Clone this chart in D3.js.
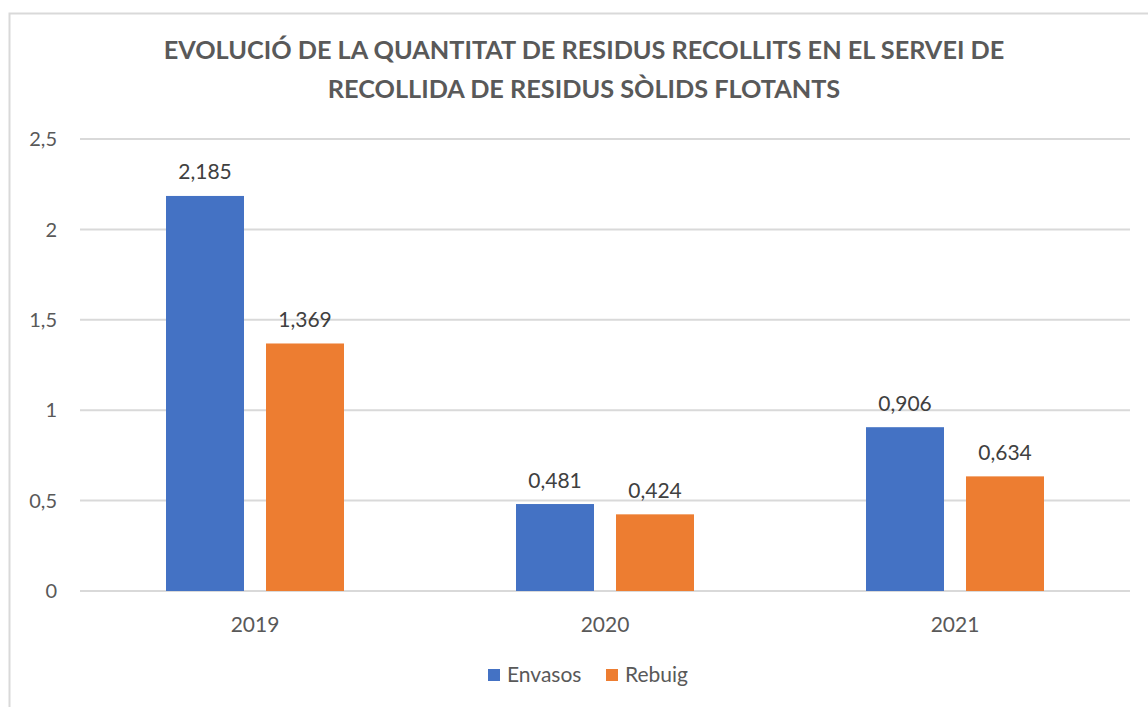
<!DOCTYPE html>
<html>
<head>
<meta charset="utf-8">
<script src="https://cdn.jsdelivr.net/npm/d3@7/dist/d3.min.js"></script>
<style>
  html, body { margin: 0; padding: 0; background: #fff; }
  svg { display: block; font-family: Lato, "Noto Sans", sans-serif; }
</style>
</head>
<body>
<svg id="chart" width="1148" height="707"></svg>
<script>
const titleLines = [
  "EVOLUCIÓ DE LA QUANTITAT DE RESIDUS RECOLLITS EN EL SERVEI DE",
  "RECOLLIDA DE RESIDUS SÒLIDS FLOTANTS"
];
const categories = ["2019", "2020", "2021"];
const seriesNames = ["Envasos", "Rebuig"];
const envasos = [2.185, 0.481, 0.906];
const rebuig = [1.369, 0.424, 0.634];
const yTicks = [0, 0.5, 1, 1.5, 2, 2.5];
const colors = ["#4472C4", "#ED7D31"];

const seriesValues = [envasos, rebuig];
const data = categories.map((c, i) => ({
  cat: c,
  vals: seriesNames.map((s, j) => ({ s, v: seriesValues[j][i], j }))
}));

const svg = d3.select("#chart");
const fmt = v => String(v).replace(".", ",");

// chart border (cropped at right and bottom)
svg.append("rect")
  .attr("x", 9.5).attr("y", 13.5)
  .attr("width", 1200).attr("height", 800)
  .attr("fill", "#fff").attr("stroke", "#d9d9d9").attr("stroke-width", 2);

// title
const title = svg.append("g");
titleLines.forEach((t, i) => {
  title.append("text")
    .attr("x", 584).attr("y", 59 + i * 39)
    .attr("text-anchor", "middle")
    .attr("font-weight", "bold")
    .attr("font-size", 24)
    .attr("fill", "#595959")
    .text(t);
});
// fit title line 1 width to ~841px
const t1 = title.select("text").node();
const w1 = t1.getComputedTextLength();
const fs = 24 * 841 / w1;
title.selectAll("text").attr("font-size", fs);

const x0 = d3.scaleBand().domain(categories).range([80, 1130]).padding(0);
const y = d3.scaleLinear().domain([0, 2.5]).range([591, 139]);

// gridlines
svg.append("g").selectAll("line").data(yTicks).join("line")
  .attr("x1", 80).attr("x2", 1130)
  .attr("y1", d => y(d)).attr("y2", d => y(d))
  .attr("stroke", "#d9d9d9").attr("stroke-width", 2);

// y tick labels
svg.append("g").selectAll("text").data(yTicks).join("text")
  .attr("x", 57).attr("y", d => y(d))
  .attr("dy", "0.36em")
  .attr("text-anchor", "end")
  .attr("font-size", 20)
  .attr("fill", "#595959")
  .text(d => fmt(d));

// bars
const barW = 78, gap = 22;
const x1 = d3.scaleOrdinal().domain(seriesNames)
  .range([-gap / 2 - barW, gap / 2]);

const groups = svg.append("g").selectAll("g").data(data).join("g")
  .attr("transform", d => `translate(${x0(d.cat) + x0.bandwidth() / 2},0)`);

groups.selectAll("rect").data(d => d.vals).join("rect")
  .attr("x", d => x1(d.s))
  .attr("width", barW)
  .attr("y", d => y(d.v))
  .attr("height", d => y(0) - y(d.v))
  .attr("fill", d => colors[d.j]);

groups.selectAll("text.lbl").data(d => d.vals).join("text")
  .attr("class", "lbl")
  .attr("x", d => x1(d.s) + barW / 2)
  .attr("y", d => y(d.v) - 16.5)
  .attr("text-anchor", "middle")
  .attr("font-size", 21)
  .attr("fill", "#404040")
  .text(d => fmt(d.v));

// x labels
svg.append("g").selectAll("text").data(categories).join("text")
  .attr("x", d => x0(d) + x0.bandwidth() / 2)
  .attr("y", 632)
  .attr("text-anchor", "middle")
  .attr("font-size", 21)
  .attr("fill", "#595959")
  .text(d => d);

// legend
const legendX = [488, 606];
const leg = svg.append("g").selectAll("g").data(seriesNames).join("g")
  .attr("transform", (d, i) => `translate(${legendX[i]},669)`);
leg.append("rect").attr("width", 12).attr("height", 12)
  .attr("fill", (d, i) => colors[i]);
leg.append("text").attr("x", 19).attr("y", 13)
  .attr("font-size", 21).attr("fill", "#595959")
  .text(d => d);
</script>
</body>
</html>
